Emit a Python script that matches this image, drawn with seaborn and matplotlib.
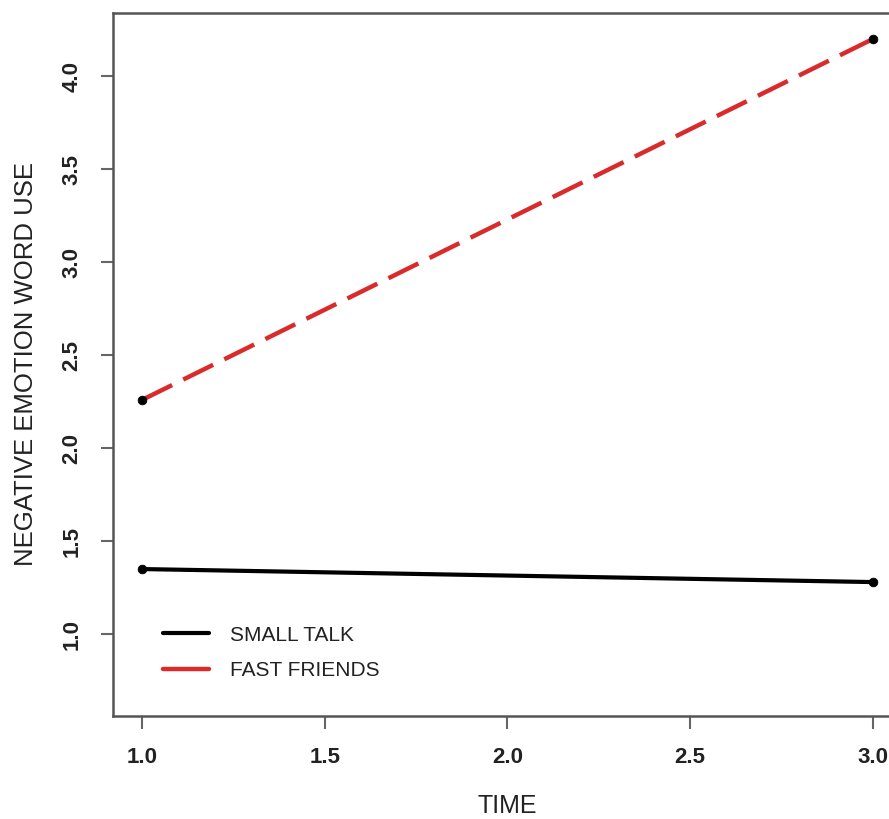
import seaborn as sns
import pandas as pd
import matplotlib.pyplot as plt

# data
time = [1.0, 3.0]
small_talk = [1.35, 1.28]
fast_friends = [2.26, 4.20]
x_ticks = [1.0, 1.5, 2.0, 2.5, 3.0]
y_ticks = [1.0, 1.5, 2.0, 2.5, 3.0, 3.5, 4.0]

sns.set_style("white")
plt.rcParams['font.family'] = ['Liberation Sans', 'DejaVu Sans']

df = pd.DataFrame({
    "time": time * 2,
    "value": small_talk + fast_friends,
    "group": ["SMALL TALK"] * 2 + ["FAST FRIENDS"] * 2,
})

fig = plt.figure(figsize=(8.89, 8.19), dpi=100)
# right edge of the box runs off the picture, like the reference
ax = fig.add_axes([0.1271, 0.1258, 0.8875, 0.8583])

sns.lineplot(data=df[df.group == "SMALL TALK"], x="time", y="value",
             color="black", linewidth=3, label="SMALL TALK", ax=ax)
sns.lineplot(data=df[df.group == "FAST FRIENDS"], x="time", y="value",
             color="#d92b2b", linewidth=3.2, linestyle=(0, (7.5, 2.8)),
             label="FAST FRIENDS", ax=ax)
sns.scatterplot(data=df, x="time", y="value", color="black", s=40,
                edgecolor="black", zorder=5, legend=False, ax=ax)

ax.set_xlim(0.92, 3.08)
ax.set_ylim(0.56, 4.34)
ax.set_xticks(x_ticks)
ax.set_yticks(y_ticks)
ax.set_xticklabels([f"{t:.1f}" for t in x_ticks], fontsize=16, fontweight="bold", color="#222222")
ax.set_yticklabels([f"{t:.1f}" for t in y_ticks], fontsize=16, fontweight="bold",
                   color="#222222", rotation=90, va="center")
ax.tick_params(axis="both", direction="out", length=9, width=1.5, color="#666666",
               pad=13, left=True, bottom=True)

for s in ax.spines.values():
    s.set_color("#555555")
    s.set_linewidth(1.8)

ax.set_xlabel("TIME", fontsize=18, color="#222222", labelpad=19)
ax.set_ylabel("NEGATIVE EMOTION WORD USE", fontsize=18.5, color="#222222", labelpad=17)

leg = ax.legend(loc="lower left", bbox_to_anchor=(0.04, 0.024), frameon=False,
                fontsize=15, handlelength=2.2, handletextpad=1.0, labelspacing=0.8)
leg.get_lines()[1].set_linestyle("-")
for t in leg.get_texts():
    t.set_color("#222222")

plt.savefig("out.png", dpi=100)
